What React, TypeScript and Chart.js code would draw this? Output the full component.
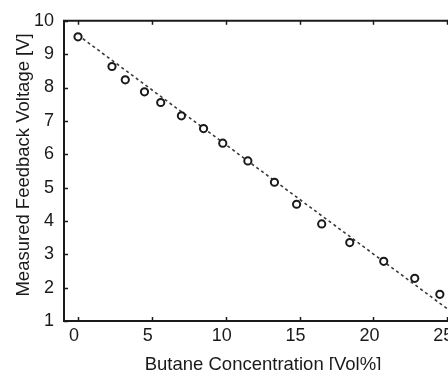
import React, { useEffect, useRef } from "react";
import { Chart, registerables } from "chart.js";

Chart.register(...registerables);

const concentration = [0, 2.3, 3.2, 4.5, 5.6, 7.0, 8.5, 9.8, 11.5, 13.3, 14.8, 16.5, 18.4, 20.7, 22.8, 24.5];
const voltage = [9.52, 8.63, 8.23, 7.87, 7.55, 7.15, 6.77, 6.33, 5.80, 5.16, 4.50, 3.91, 3.35, 2.79, 2.28, 1.80];

// Linear fit (dashed line) end points
const fitX = [0, 26];
const fitY = [9.57, 1.04];

const xTicks = [0, 5, 10, 15, 20, 25];
const yTicks = [1, 2, 3, 4, 5, 6, 7, 8, 9, 10];

const xTitle = "Butane Concentration [Vol%]";
const yTitle = "Measured Feedback Voltage [V]";

const FONT = "'Liberation Sans', Arial, Helvetica, sans-serif";
const INK = "#1a1a1a";

const framePlugin = {
  id: "frame",
  afterDatasetsDraw(chart: any) {
    const { ctx, chartArea: a, scales } = chart;
    const x = scales.x;
    const y = scales.y;
    ctx.save();
    ctx.strokeStyle = INK;
    ctx.lineWidth = 2;
    ctx.beginPath();
    ctx.moveTo(a.left, a.top);
    ctx.lineTo(a.left, a.bottom);
    ctx.lineTo(a.right, a.bottom);
    ctx.lineTo(a.right, a.top);
    ctx.closePath();
    ctx.stroke();
    ctx.lineWidth = 1.5;
    ctx.beginPath();
    x.ticks.forEach((t: any) => {
      const px = Math.round(x.getPixelForValue(t.value)) + 0.5;
      ctx.moveTo(px, a.bottom);
      ctx.lineTo(px, a.bottom - 4);
      ctx.moveTo(px, a.top);
      ctx.lineTo(px, a.top + 4);
    });
    y.ticks.forEach((t: any) => {
      const py = Math.round(y.getPixelForValue(t.value)) + 0.5;
      ctx.moveTo(a.left, py);
      ctx.lineTo(a.left + 4, py);
      ctx.moveTo(a.right, py);
      ctx.lineTo(a.right - 4, py);
    });
    ctx.stroke();

    // Y-axis title (drawn here to match the reference's vertical placement)
    ctx.translate(24, (a.top + a.bottom) / 2 - 6);
    ctx.rotate(-Math.PI / 2);
    ctx.fillStyle = INK;
    ctx.font = `18.5px ${FONT}`;
    ctx.textAlign = "center";
    ctx.textBaseline = "middle";
    ctx.fillText(yTitle, 0, 0);
    ctx.restore();
  },
};

export default function App() {
  const ref = useRef<HTMLCanvasElement | null>(null);

  useEffect(() => {
    if (!ref.current) return;
    const chart = new Chart(ref.current, {
      type: "scatter",
      data: {
        datasets: [
          {
            label: "Measured",
            data: concentration.map((c, i) => ({ x: c, y: voltage[i] })),
            pointRadius: 3.6,
            pointBorderWidth: 2,
            borderColor: INK,
            backgroundColor: "#ffffff",
            pointStyle: "circle",
            showLine: false,
            order: 0,
          },
          {
            type: "line",
            label: "Fit",
            data: fitX.map((c, i) => ({ x: c, y: fitY[i] })),
            borderColor: "#3a3a3a",
            borderWidth: 1.6,
            borderDash: [3, 3],
            pointRadius: 0,
            fill: false,
            order: 1,
          } as any,
        ],
      },
      plugins: [framePlugin],
      options: {
        animation: false,
        responsive: false,
        devicePixelRatio: 1,
        layout: { padding: { top: 12, right: 8, left: 0, bottom: 0 } },
        plugins: {
          legend: { display: false },
          tooltip: { enabled: false },
        },
        scales: {
          x: {
            type: "linear",
            min: -0.95,
            max: 26,
            afterBuildTicks: (s: any) => {
              s.ticks = xTicks.map((v) => ({ value: v }));
            },
            afterFit: (s: any) => {
              s.height = 53;
            },
            grid: { display: false, drawTicks: false },
            border: { display: false },
            ticks: {
              color: INK,
              font: { family: FONT, size: 18 },
              padding: 4,
              labelOffset: -4,
              maxRotation: 0,
              autoSkip: false,
            },
            title: {
              display: true,
              text: xTitle,
              color: INK,
              font: { family: FONT, size: 18.5, lineHeight: 1 },
              padding: { top: 0, bottom: 0 },
            },
          },
          y: {
            type: "linear",
            min: 1,
            max: 10,
            afterBuildTicks: (s: any) => {
              s.ticks = yTicks.map((v) => ({ value: v }));
            },
            afterFit: (s: any) => {
              s.width = 64;
            },
            grid: { display: false, drawTicks: false },
            border: { display: false },
            ticks: {
              color: INK,
              font: { family: FONT, size: 18 },
              padding: 10,
              autoSkip: false,
            },
            title: { display: false },
          },
        },
      },
    });
    return () => chart.destroy();
  }, []);

  return (
    <div
      style={{
        position: "fixed",
        left: 0,
        top: 0,
        width: 448,
        height: 370,
        overflow: "hidden",
        background: "#ffffff",
      }}
    >
      <canvas ref={ref} width={470} height={374} style={{ width: 470, height: 374, display: "block" }} />
    </div>
  );
}
